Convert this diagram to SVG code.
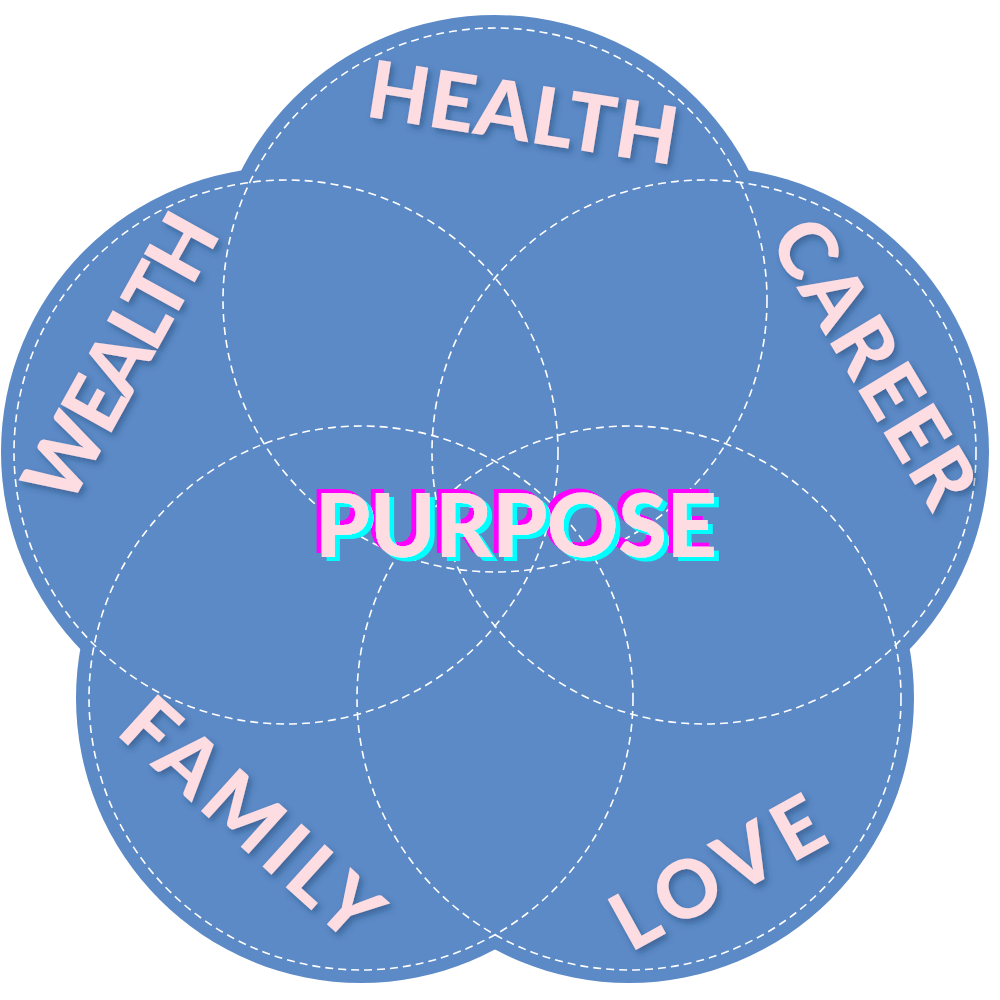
<svg xmlns="http://www.w3.org/2000/svg" width="1000" height="1000" viewBox="0 0 1000 1000">
<defs>
<filter id="sh" x="-20%" y="-30%" width="140%" height="160%">
<feDropShadow dx="3" dy="4" stdDeviation="3" flood-color="#1d3a66" flood-opacity="0.45"/>
</filter>
<filter id="glitch" x="-10%" y="-30%" width="120%" height="160%">
<feFlood flood-color="#ff00ff" result="m"/>
<feComposite in="m" in2="SourceAlpha" operator="in" result="m2"/>
<feOffset in="m2" dx="-5" dy="-4" result="mo"/>
<feFlood flood-color="#00ffff" result="c"/>
<feComposite in="c" in2="SourceAlpha" operator="in" result="c2"/>
<feOffset in="c2" dx="5" dy="4" result="co"/>
<feMerge><feMergeNode in="mo"/><feMergeNode in="co"/><feMergeNode in="SourceGraphic"/></feMerge>
</filter>
<style>
.fill{fill:#5c8ac6}
.dash{fill:none;stroke:#ffffff;stroke-width:1.6;stroke-dasharray:8 5}
.lbl{font-family:Lato,"Liberation Sans",sans-serif;font-weight:900;font-size:80px;fill:#fddde2;text-anchor:middle}
.pp{font-family:Lato,"Liberation Sans",sans-serif;font-weight:900;font-size:88px;fill:#fddde2;text-anchor:middle}
</style>
</defs>
<rect width="1000" height="1000" fill="#ffffff"/>
<g id="petal-fills" class="fill">
<circle cx="495" cy="300" r="285"/>
<circle cx="286" cy="452" r="285"/>
<circle cx="704" cy="452" r="285"/>
<circle cx="361" cy="698" r="285"/>
<circle cx="629" cy="698" r="285"/>
</g>
<g id="outlines" class="dash">
<circle cx="495" cy="300" r="272"/>
<circle cx="286" cy="452" r="272"/>
<circle cx="704" cy="452" r="272"/>
<circle cx="361" cy="698" r="272"/>
<circle cx="629" cy="698" r="272"/>
</g>
<g id="health" filter="url(#sh)">
<text class="lbl" transform="translate(523,112) rotate(9)" x="0" y="29" textLength="313">HEALTH</text>
</g>
<g id="career" filter="url(#sh)">
<text class="lbl" transform="translate(875,362) rotate(59)" x="0" y="29" textLength="320">CAREER</text>
</g>
<g id="wealth" filter="url(#sh)">
<text class="lbl" transform="translate(120,357) rotate(-61)" x="0" y="29" textLength="315">WEALTH</text>
</g>
<g id="family" filter="url(#sh)">
<text class="lbl" transform="translate(252,818) rotate(42)" x="0" y="29" textLength="318">FAMILY</text>
</g>
<g id="love" filter="url(#sh)">
<text class="lbl" transform="translate(717,872) rotate(-29)" x="0" y="29" textLength="230">LOVE</text>
</g>
<g id="purpose" filter="url(#glitch)">
<text class="pp" x="516" y="557" textLength="402">PURPOSE</text>
</g>
</svg>
